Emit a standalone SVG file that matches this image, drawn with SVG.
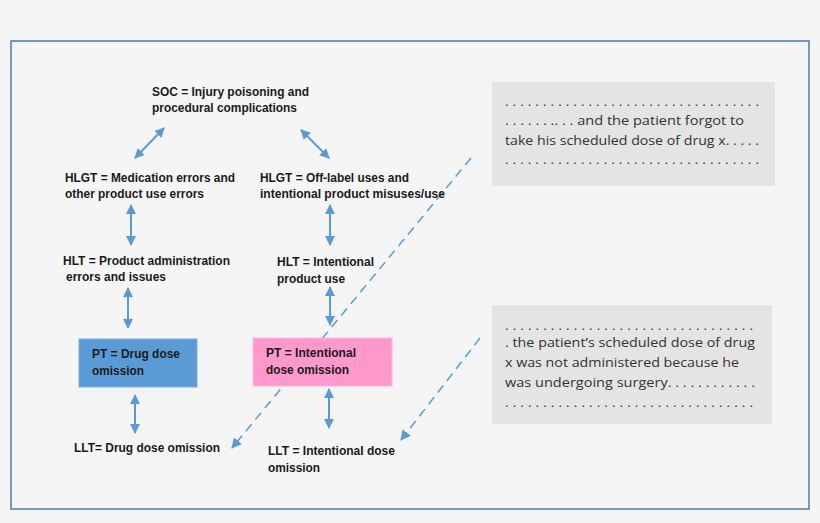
<svg xmlns="http://www.w3.org/2000/svg" width="820" height="523" viewBox="0 0 820 523">
<style>
.l{font-family:"Liberation Sans",Arial,sans-serif;font-weight:bold;font-size:13px;fill:#1a1a1a}
.n{font-family:"Open Sans","Liberation Sans",sans-serif;font-size:13.5px;fill:#333}
.a{stroke:#5b9bd5;stroke-width:2;fill:none;marker-start:url(#m);marker-end:url(#m)}
.d{stroke:#5b9bd5;stroke-width:1.5;stroke-dasharray:9 6;fill:none;marker-end:url(#m2)}
</style>
<defs>
<marker id="m" viewBox="0 0 10 10" refX="9" refY="5" markerWidth="5" markerHeight="5" orient="auto-start-reverse"><path d="M0,0L10,5L0,10z" fill="#5b9bd5"/></marker>
<marker id="m2" viewBox="0 0 10 10" refX="9" refY="5" markerWidth="7" markerHeight="7" orient="auto"><path d="M0,0L10,5L0,10z" fill="#5b9bd5"/></marker>
</defs>
<rect width="820" height="523" fill="#f5f5f5"/>
<rect x="11" y="41" width="798" height="468" fill="#f5f5f5" stroke="#4a7bb0" stroke-width="1.5"/>
<g id="connectors">
<path class="a" d="M135,158L164,128"/>
<path class="a" d="M301,130L329,158"/>
<path class="a" d="M131,205V245"/>
<path class="a" d="M330,205V245"/>
<path class="a" d="M128,288V328"/>
<path class="a" d="M330,287V325"/>
<path class="a" d="M135,395V433"/>
<path class="a" d="M329,389V428"/>
<path class="d" d="M471,158L232,448"/>
<path class="d" d="M480,338L401,440"/>
</g>
<g id="soc"><text class="l" x="152" y="96" textLength="157" lengthAdjust="spacingAndGlyphs">SOC = Injury poisoning and</text><text class="l" x="152" y="112" textLength="145" lengthAdjust="spacingAndGlyphs">procedural complications</text></g>
<g id="hlgt1"><text class="l" x="65" y="182" textLength="170" lengthAdjust="spacingAndGlyphs">HLGT = Medication errors and</text><text class="l" x="65" y="198" textLength="139" lengthAdjust="spacingAndGlyphs">other product use errors</text></g>
<g id="hlgt2"><text class="l" x="260" y="182" textLength="149" lengthAdjust="spacingAndGlyphs">HLGT = Off-label uses and</text><text class="l" x="260" y="198" textLength="185" lengthAdjust="spacingAndGlyphs">intentional  product misuses/use</text></g>
<g id="hlt1"><text class="l" x="63" y="265" textLength="167" lengthAdjust="spacingAndGlyphs">HLT = Product administration</text><text class="l" x="66" y="281" textLength="100" lengthAdjust="spacingAndGlyphs">errors and issues</text></g>
<g id="hlt2"><text class="l" x="277" y="266" textLength="97" lengthAdjust="spacingAndGlyphs">HLT = Intentional</text><text class="l" x="277" y="283" textLength="68" lengthAdjust="spacingAndGlyphs">product use</text></g>
<g id="pt1"><rect x="79" y="339" width="118" height="48" fill="#5b9bd5" stroke="#7aaee0"/><text class="l" x="92" y="358" textLength="88" lengthAdjust="spacingAndGlyphs">PT = Drug dose</text><text class="l" x="92" y="375" textLength="52" lengthAdjust="spacingAndGlyphs">omission</text></g>
<g id="pt2"><rect x="253" y="338" width="139" height="48" fill="#ff99cc" stroke="#ffb3d9"/><text class="l" x="266" y="357" textLength="90" lengthAdjust="spacingAndGlyphs">PT = Intentional</text><text class="l" x="266" y="374" textLength="83" lengthAdjust="spacingAndGlyphs">dose omission</text></g>
<g id="llt1"><text class="l" x="74" y="452" textLength="146" lengthAdjust="spacingAndGlyphs">LLT= Drug dose omission</text></g>
<g id="llt2"><text class="l" x="268" y="455" textLength="127" lengthAdjust="spacingAndGlyphs">LLT = Intentional dose</text><text class="l" x="268" y="472" textLength="52" lengthAdjust="spacingAndGlyphs">omission</text></g>
<g id="note1"><rect x="492" y="82" width="283" height="104" fill="#e4e4e4"/>
<text class="n" x="505" y="106" textLength="254">. . . . . . . . . . . . . . . . . . . . . . . . . . . . . . . . . .</text>
<text class="n" x="505" y="125" textLength="239" lengthAdjust="spacingAndGlyphs">. . . . . . .. . . and the patient forgot to</text>
<text class="n" x="505" y="145" textLength="254" lengthAdjust="spacingAndGlyphs">take his scheduled dose of drug x. . . . .</text>
<text class="n" x="505" y="164" textLength="254">. . . . . . . . . . . . . . . . . . . . . . . . . . . . . . . . . .</text></g>
<g id="note2"><rect x="492" y="305" width="280" height="119" fill="#e4e4e4"/>
<text class="n" x="505" y="330" textLength="248">. . . . . . . . . . . . . . . . . . . . . . . . . . . . . . . . .</text>
<text class="n" x="505" y="347" textLength="250" lengthAdjust="spacingAndGlyphs">. the patient’s scheduled dose of drug</text>
<text class="n" x="505" y="367" textLength="234" lengthAdjust="spacingAndGlyphs">x was not administered because he</text>
<text class="n" x="505" y="387" textLength="250" lengthAdjust="spacingAndGlyphs">was undergoing surgery. . . . . . . . . . . .</text>
<text class="n" x="505" y="407" textLength="248">. . . . . . . . . . . . . . . . . . . . . . . . . . . . . . . . .</text></g>
</svg>
